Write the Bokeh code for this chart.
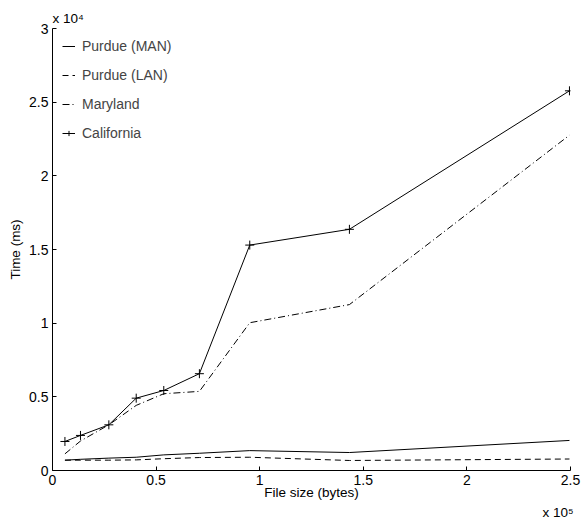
from bokeh.plotting import figure
from bokeh.models import FixedTicker, Legend, LegendItem, Range1d, Title
from bokeh.embed import file_html
from bokeh.resources import INLINE

file_size = [6000, 13500, 27200, 40400, 53700, 70900, 95200, 143300, 249500]
purdue_man = [700, 760, 840, 900, 1060, 1170, 1350, 1220, 2040]
purdue_lan = [700, 700, 700, 720, 800, 880, 900, 680, 780]
maryland = [1130, 2000, 3100, 4420, 5210, 5370, 10030, 11260, 22760]
california = [1970, 2380, 3100, 4910, 5430, 6570, 15300, 16370, 25770]

x_ticks = [0, 50000, 100000, 150000, 200000, 250000]
x_labels = ["0", "0.5", "1", "1.5", "2", "2.5"]
y_ticks = [0, 5000, 10000, 15000, 20000, 25000, 30000]
y_labels = ["0", "0.5", "1", "1.5", "2", "2.5", "3"]
x_exponent = "x 10\u2075"
y_exponent = "x 10\u2074"

FONT = "Liberation Sans"
H = 519

p = figure(width=582, height=H, output_backend="svg", toolbar_location=None,
           x_range=Range1d(0, 250000), y_range=Range1d(0, 30000))
p.min_border_left = 52
p.min_border_right = 12
p.min_border_top = 28
p.min_border_bottom = 49
p.outline_line_color = None
p.grid.visible = False
p.background_fill_color = "white"
p.border_fill_color = "white"

for ax in (p.xaxis[0], p.yaxis[0]):
    ax.major_tick_in = 4
    ax.major_tick_out = 0
    ax.minor_tick_in = 0
    ax.minor_tick_out = 0
    ax.axis_line_color = "black"
    ax.major_tick_line_color = "black"
    ax.major_label_text_font = FONT
    ax.major_label_text_font_size = "14px"
    ax.major_label_text_color = "black"
    ax.axis_label_text_font = FONT
    ax.axis_label_text_font_size = "13.5px"
    ax.axis_label_text_font_style = "normal"
    ax.axis_label_text_color = "black"

p.xaxis.ticker = FixedTicker(ticks=x_ticks)
p.xaxis.major_label_overrides = {t: l for t, l in zip(x_ticks, x_labels)}
p.yaxis.ticker = FixedTicker(ticks=y_ticks)
p.yaxis.major_label_overrides = {t: l for t, l in zip(y_ticks, y_labels)}
p.xaxis.axis_label = "File size (bytes)"
p.yaxis.axis_label = "Time (ms)"
p.xaxis.major_label_standoff = 4
p.xaxis.axis_label_standoff = -3
p.yaxis.major_label_standoff = 4
p.yaxis.axis_label_standoff = 3

r_man = p.line(file_size, purdue_man, line_color="black", line_width=1)
r_lan = p.line(file_size, purdue_lan, line_color="black", line_width=1, line_dash="6 4")
r_mar = p.line(file_size, maryland, line_color="black", line_width=1, line_dash="7 3 1 3")
r_cal = p.line(file_size, california, line_color="black", line_width=1)
r_calm = p.scatter(file_size, california, marker="cross", size=9, line_color="black", line_width=1)

legend = Legend(items=[
    LegendItem(label="Purdue (MAN)", renderers=[r_man]),
    LegendItem(label="Purdue (LAN)", renderers=[r_lan]),
    LegendItem(label="Maryland", renderers=[r_mar]),
    LegendItem(label="California", renderers=[r_cal, r_calm]),
], location="top_left")
legend.border_line_color = None
legend.background_fill_alpha = 0
legend.label_text_font = FONT
legend.label_text_font_size = "14px"
legend.glyph_width = 13
legend.glyph_height = 16
legend.spacing = 13
legend.label_standoff = 7
legend.margin = 10
legend.padding = 4
p.add_layout(legend)

top_exp = Title(text=y_exponent, align="left", text_font=FONT, text_font_size="13.5px",
                text_font_style="normal", text_color="black", offset=0, standoff=5)
p.add_layout(top_exp, "above")

bottom_exp = Title(text=x_exponent, align="right", text_font=FONT, text_font_size="13.5px",
                   text_font_style="normal", text_color="black", offset=-3, standoff=0)
p.add_layout(bottom_exp, "below")

open("out.html", "w").write(file_html(p, INLINE))
